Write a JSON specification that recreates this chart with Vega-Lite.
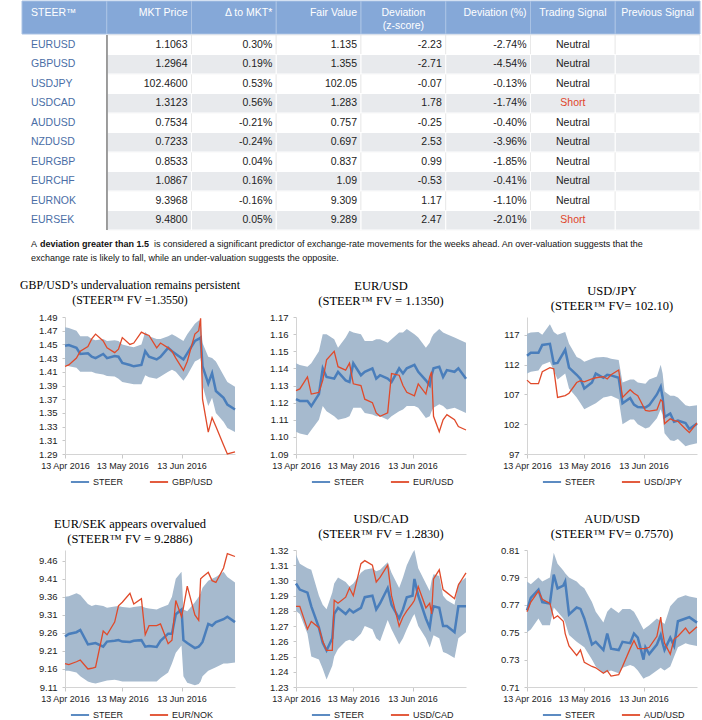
{
"$schema":"https://vega.github.io/schema/vega-lite/v6.json",
"padding":{"left":20,"top":0,"right":0,"bottom":0},
"config":{
 "font":"Liberation Sans Narrow, Liberation Sans, Arial, sans-serif",
 "view":{"stroke":null},
 "axis":{"labelColor":"#222","domainColor":"#d4d4d4","tickColor":"#c8c8c8","grid":false},
 "axisY":{"ticks":true,"tickSize":3,"labelPadding":5,"labelFontSize":9.5,"labelOverlap":false},
 "axisX":{"tickSize":4,"labelPadding":3,"labelFontSize":9},
 "title":{"font":"Liberation Serif","fontSize":12.5,"fontWeight":"normal","lineHeight":15,"offset":5,"color":"#000"},
 "legend":{"orient":"none","legendY":155,"direction":"horizontal","title":null,"symbolType":"stroke","symbolSize":330,"symbolStrokeWidth":1.8,"labelFontSize":9,"labelColor":"#222","columnPadding":22,"labelOffset":3}
},
"datasets":{
 "hdr":[{"col":"pair","label":"STEER™"},{"col":"price","label":"MKT Price"},{"col":"delta","label":"Δ to MKT*"},{"col":"fv","label":"Fair Value"},{"col":"z","label":"Deviation\n(z-score)"},{"col":"pct","label":"Deviation (%)"},{"col":"signal","label":"Trading Signal"},{"col":"prev","label":"Previous Signal"}],
 "tbl":[
  {"pair":"EURUSD","price":"1.1063","delta":"0.30%","fv":"1.135","z":"-2.23","pct":"-2.74%","signal":"Neutral","prev":""},
  {"pair":"GBPUSD","price":"1.2964","delta":"0.19%","fv":"1.355","z":"-2.71","pct":"-4.54%","signal":"Neutral","prev":""},
  {"pair":"USDJPY","price":"102.4600","delta":"0.53%","fv":"102.05","z":"-0.07","pct":"-0.13%","signal":"Neutral","prev":""},
  {"pair":"USDCAD","price":"1.3123","delta":"0.56%","fv":"1.283","z":"1.78","pct":"-1.74%","signal":"Short","prev":""},
  {"pair":"AUDUSD","price":"0.7534","delta":"-0.21%","fv":"0.757","z":"-0.25","pct":"-0.40%","signal":"Neutral","prev":""},
  {"pair":"NZDUSD","price":"0.7233","delta":"-0.24%","fv":"0.697","z":"2.53","pct":"-3.96%","signal":"Neutral","prev":""},
  {"pair":"EURGBP","price":"0.8533","delta":"0.04%","fv":"0.837","z":"0.99","pct":"-1.85%","signal":"Neutral","prev":""},
  {"pair":"EURCHF","price":"1.0867","delta":"0.16%","fv":"1.09","z":"-0.53","pct":"-0.41%","signal":"Neutral","prev":""},
  {"pair":"EURNOK","price":"9.3968","delta":"-0.16%","fv":"9.309","z":"1.17","pct":"-1.10%","signal":"Neutral","prev":""},
  {"pair":"EURSEK","price":"9.4800","delta":"0.05%","fv":"9.289","z":"2.47","pct":"-2.01%","signal":"Short","prev":""}
 ],
 "foot":[
  {"line":1,"seg":"a","text":"A"},
  {"line":1,"seg":"b","text":"deviation greater than 1.5"},
  {"line":1,"seg":"c","text":"is considered a significant predictor of exchange-rate movements for the weeks ahead. An over-valuation suggests that the"},
  {"line":2,"seg":"a","text":"exchange rate is likely to fall, while an under-valuation suggests the opposite."}
 ],
 "c1":[
  {"date":"2016-04-13","steer":1.448,"lo":1.420,"hi":1.475,"spot":1.418},
  {"date":"2016-04-15","steer":1.449,"lo":1.418,"hi":1.474,"spot":1.420},
  {"date":"2016-04-19","steer":1.445,"lo":1.416,"hi":1.470,"spot":1.430},
  {"date":"2016-04-21","steer":1.436,"lo":1.410,"hi":1.462,"spot":1.440},
  {"date":"2016-04-25","steer":1.437,"lo":1.410,"hi":1.462,"spot":1.447},
  {"date":"2016-04-27","steer":1.432,"lo":1.410,"hi":1.458,"spot":1.458},
  {"date":"2016-04-29","steer":1.430,"lo":1.408,"hi":1.456,"spot":1.465},
  {"date":"2016-05-03","steer":1.436,"lo":1.406,"hi":1.458,"spot":1.455},
  {"date":"2016-05-05","steer":1.430,"lo":1.404,"hi":1.455,"spot":1.445},
  {"date":"2016-05-09","steer":1.433,"lo":1.403,"hi":1.456,"spot":1.438},
  {"date":"2016-05-11","steer":1.432,"lo":1.400,"hi":1.455,"spot":1.443},
  {"date":"2016-05-13","steer":1.423,"lo":1.395,"hi":1.450,"spot":1.460},
  {"date":"2016-05-17","steer":1.420,"lo":1.393,"hi":1.447,"spot":1.450},
  {"date":"2016-05-19","steer":1.418,"lo":1.392,"hi":1.446,"spot":1.452},
  {"date":"2016-05-23","steer":1.420,"lo":1.392,"hi":1.450,"spot":1.468},
  {"date":"2016-05-25","steer":1.440,"lo":1.405,"hi":1.468,"spot":1.465},
  {"date":"2016-05-27","steer":1.432,"lo":1.402,"hi":1.462,"spot":1.463},
  {"date":"2016-05-31","steer":1.428,"lo":1.400,"hi":1.458,"spot":1.445},
  {"date":"2016-06-02","steer":1.432,"lo":1.403,"hi":1.458,"spot":1.452},
  {"date":"2016-06-06","steer":1.445,"lo":1.410,"hi":1.462,"spot":1.445},
  {"date":"2016-06-08","steer":1.440,"lo":1.413,"hi":1.465,"spot":1.440},
  {"date":"2016-06-10","steer":1.436,"lo":1.410,"hi":1.462,"spot":1.430},
  {"date":"2016-06-14","steer":1.428,"lo":1.397,"hi":1.455,"spot":1.412},
  {"date":"2016-06-16","steer":1.437,"lo":1.405,"hi":1.465,"spot":1.425},
  {"date":"2016-06-20","steer":1.455,"lo":1.425,"hi":1.480,"spot":1.465},
  {"date":"2016-06-22","steer":1.458,"lo":1.428,"hi":1.485,"spot":1.470},
  {"date":"2016-06-23","steer":1.460,"lo":1.430,"hi":1.485,"spot":1.488},
  {"date":"2016-06-24","steer":1.418,"lo":1.390,"hi":1.452,"spot":1.370},
  {"date":"2016-06-27","steer":1.393,"lo":1.360,"hi":1.432,"spot":1.322},
  {"date":"2016-06-29","steer":1.408,"lo":1.372,"hi":1.430,"spot":1.343},
  {"date":"2016-07-01","steer":1.382,"lo":1.350,"hi":1.425,"spot":1.330},
  {"date":"2016-07-05","steer":1.372,"lo":1.337,"hi":1.405,"spot":1.303},
  {"date":"2016-07-07","steer":1.362,"lo":1.328,"hi":1.395,"spot":1.290},
  {"date":"2016-07-11","steer":1.355,"lo":1.322,"hi":1.388,"spot":1.293}
 ],
 "c2":[
  {"date":"2016-04-13","steer":1.122,"lo":1.103,"hi":1.143,"spot":1.127},
  {"date":"2016-04-15","steer":1.121,"lo":1.102,"hi":1.142,"spot":1.128},
  {"date":"2016-04-19","steer":1.121,"lo":1.101,"hi":1.141,"spot":1.135},
  {"date":"2016-04-21","steer":1.118,"lo":1.104,"hi":1.143,"spot":1.125},
  {"date":"2016-04-25","steer":1.125,"lo":1.110,"hi":1.150,"spot":1.126},
  {"date":"2016-04-27","steer":1.140,"lo":1.118,"hi":1.160,"spot":1.133},
  {"date":"2016-04-29","steer":1.135,"lo":1.115,"hi":1.160,"spot":1.145},
  {"date":"2016-05-03","steer":1.134,"lo":1.112,"hi":1.157,"spot":1.150},
  {"date":"2016-05-05","steer":1.138,"lo":1.110,"hi":1.152,"spot":1.141},
  {"date":"2016-05-09","steer":1.133,"lo":1.111,"hi":1.158,"spot":1.139},
  {"date":"2016-05-11","steer":1.132,"lo":1.112,"hi":1.162,"spot":1.143},
  {"date":"2016-05-13","steer":1.143,"lo":1.117,"hi":1.161,"spot":1.131},
  {"date":"2016-05-17","steer":1.136,"lo":1.117,"hi":1.160,"spot":1.130},
  {"date":"2016-05-19","steer":1.138,"lo":1.114,"hi":1.156,"spot":1.122},
  {"date":"2016-05-23","steer":1.140,"lo":1.113,"hi":1.156,"spot":1.120},
  {"date":"2016-05-25","steer":1.134,"lo":1.112,"hi":1.157,"spot":1.114},
  {"date":"2016-05-27","steer":1.136,"lo":1.112,"hi":1.157,"spot":1.112},
  {"date":"2016-05-31","steer":1.134,"lo":1.110,"hi":1.155,"spot":1.114},
  {"date":"2016-06-02","steer":1.132,"lo":1.112,"hi":1.157,"spot":1.137},
  {"date":"2016-06-06","steer":1.140,"lo":1.115,"hi":1.161,"spot":1.136},
  {"date":"2016-06-08","steer":1.137,"lo":1.116,"hi":1.161,"spot":1.130},
  {"date":"2016-06-10","steer":1.140,"lo":1.118,"hi":1.163,"spot":1.126},
  {"date":"2016-06-14","steer":1.142,"lo":1.118,"hi":1.160,"spot":1.124},
  {"date":"2016-06-16","steer":1.138,"lo":1.117,"hi":1.158,"spot":1.131},
  {"date":"2016-06-20","steer":1.133,"lo":1.111,"hi":1.152,"spot":1.125},
  {"date":"2016-06-22","steer":1.130,"lo":1.112,"hi":1.155,"spot":1.135},
  {"date":"2016-06-23","steer":1.136,"lo":1.115,"hi":1.158,"spot":1.138},
  {"date":"2016-06-24","steer":1.140,"lo":1.117,"hi":1.160,"spot":1.112},
  {"date":"2016-06-27","steer":1.141,"lo":1.119,"hi":1.163,"spot":1.103},
  {"date":"2016-06-29","steer":1.135,"lo":1.118,"hi":1.161,"spot":1.110},
  {"date":"2016-07-01","steer":1.139,"lo":1.116,"hi":1.160,"spot":1.113},
  {"date":"2016-07-05","steer":1.138,"lo":1.117,"hi":1.158,"spot":1.110},
  {"date":"2016-07-07","steer":1.140,"lo":1.116,"hi":1.157,"spot":1.106},
  {"date":"2016-07-11","steer":1.134,"lo":1.114,"hi":1.155,"spot":1.104}
 ],
 "c3":[
  {"date":"2016-04-13","steer":113.5,"lo":110.5,"hi":117.2,"spot":109.4},
  {"date":"2016-04-15","steer":114.0,"lo":110.8,"hi":117.4,"spot":108.8},
  {"date":"2016-04-19","steer":114.0,"lo":111.0,"hi":117.5,"spot":108.8},
  {"date":"2016-04-21","steer":115.3,"lo":112.0,"hi":117.0,"spot":110.8},
  {"date":"2016-04-25","steer":115.5,"lo":112.5,"hi":118.8,"spot":111.5},
  {"date":"2016-04-27","steer":112.2,"lo":111.0,"hi":117.5,"spot":111.3},
  {"date":"2016-04-29","steer":112.3,"lo":109.5,"hi":117.0,"spot":106.5},
  {"date":"2016-05-03","steer":114.5,"lo":110.5,"hi":117.5,"spot":106.8},
  {"date":"2016-05-05","steer":111.5,"lo":108.0,"hi":115.5,"spot":107.2},
  {"date":"2016-05-09","steer":110.3,"lo":106.5,"hi":113.3,"spot":109.0},
  {"date":"2016-05-11","steer":109.6,"lo":105.5,"hi":113.0,"spot":109.3},
  {"date":"2016-05-13","steer":108.0,"lo":104.5,"hi":112.5,"spot":109.1},
  {"date":"2016-05-17","steer":109.0,"lo":105.2,"hi":113.0,"spot":109.6},
  {"date":"2016-05-19","steer":110.5,"lo":105.5,"hi":113.2,"spot":109.8},
  {"date":"2016-05-23","steer":109.8,"lo":106.5,"hi":113.3,"spot":110.0},
  {"date":"2016-05-25","steer":110.3,"lo":106.6,"hi":113.2,"spot":109.6},
  {"date":"2016-05-27","steer":110.2,"lo":106.8,"hi":113.0,"spot":110.3},
  {"date":"2016-05-31","steer":109.8,"lo":106.2,"hi":112.8,"spot":111.1},
  {"date":"2016-06-02","steer":105.5,"lo":102.0,"hi":109.0,"spot":106.5},
  {"date":"2016-06-06","steer":106.4,"lo":102.8,"hi":109.5,"spot":107.8},
  {"date":"2016-06-08","steer":105.3,"lo":102.8,"hi":109.5,"spot":107.2},
  {"date":"2016-06-10","steer":104.9,"lo":102.0,"hi":109.0,"spot":106.8},
  {"date":"2016-06-14","steer":104.8,"lo":101.3,"hi":108.8,"spot":104.3},
  {"date":"2016-06-16","steer":105.2,"lo":101.5,"hi":109.5,"spot":104.2},
  {"date":"2016-06-20","steer":107.0,"lo":103.0,"hi":110.0,"spot":104.4},
  {"date":"2016-06-22","steer":108.3,"lo":104.5,"hi":112.0,"spot":106.1},
  {"date":"2016-06-23","steer":106.5,"lo":103.5,"hi":110.5,"spot":105.8},
  {"date":"2016-06-24","steer":103.2,"lo":100.5,"hi":107.5,"spot":102.1},
  {"date":"2016-06-27","steer":103.8,"lo":99.3,"hi":106.8,"spot":102.9},
  {"date":"2016-06-29","steer":102.4,"lo":99.2,"hi":106.8,"spot":102.6},
  {"date":"2016-07-01","steer":102.6,"lo":99.5,"hi":106.5,"spot":102.5},
  {"date":"2016-07-05","steer":102.2,"lo":98.3,"hi":105.2,"spot":101.2},
  {"date":"2016-07-07","steer":101.2,"lo":98.5,"hi":105.0,"spot":100.6},
  {"date":"2016-07-11","steer":102.1,"lo":98.8,"hi":105.2,"spot":102.2}
 ],
 "c4":[
  {"date":"2016-04-13","steer":9.250,"lo":9.155,"hi":9.360,"spot":9.175},
  {"date":"2016-04-15","steer":9.257,"lo":9.155,"hi":9.362,"spot":9.172},
  {"date":"2016-04-19","steer":9.262,"lo":9.150,"hi":9.370,"spot":9.180},
  {"date":"2016-04-21","steer":9.268,"lo":9.140,"hi":9.365,"spot":9.185},
  {"date":"2016-04-25","steer":9.228,"lo":9.125,"hi":9.340,"spot":9.160},
  {"date":"2016-04-27","steer":9.230,"lo":9.122,"hi":9.335,"spot":9.162},
  {"date":"2016-04-29","steer":9.232,"lo":9.120,"hi":9.338,"spot":9.165},
  {"date":"2016-05-03","steer":9.222,"lo":9.125,"hi":9.335,"spot":9.265},
  {"date":"2016-05-05","steer":9.236,"lo":9.128,"hi":9.330,"spot":9.255},
  {"date":"2016-05-09","steer":9.238,"lo":9.130,"hi":9.333,"spot":9.290},
  {"date":"2016-05-11","steer":9.240,"lo":9.128,"hi":9.335,"spot":9.335},
  {"date":"2016-05-13","steer":9.236,"lo":9.125,"hi":9.332,"spot":9.345},
  {"date":"2016-05-17","steer":9.235,"lo":9.125,"hi":9.330,"spot":9.370},
  {"date":"2016-05-19","steer":9.238,"lo":9.125,"hi":9.332,"spot":9.340},
  {"date":"2016-05-23","steer":9.240,"lo":9.125,"hi":9.335,"spot":9.355},
  {"date":"2016-05-25","steer":9.222,"lo":9.125,"hi":9.330,"spot":9.255},
  {"date":"2016-05-27","steer":9.224,"lo":9.125,"hi":9.328,"spot":9.280},
  {"date":"2016-05-31","steer":9.221,"lo":9.125,"hi":9.325,"spot":9.280},
  {"date":"2016-06-02","steer":9.238,"lo":9.135,"hi":9.330,"spot":9.285},
  {"date":"2016-06-06","steer":9.258,"lo":9.150,"hi":9.338,"spot":9.230},
  {"date":"2016-06-08","steer":9.258,"lo":9.175,"hi":9.360,"spot":9.240},
  {"date":"2016-06-10","steer":9.312,"lo":9.205,"hi":9.410,"spot":9.350},
  {"date":"2016-06-13","steer":9.325,"lo":9.225,"hi":9.430,"spot":9.305},
  {"date":"2016-06-14","steer":9.240,"lo":9.140,"hi":9.325,"spot":9.330},
  {"date":"2016-06-16","steer":9.232,"lo":9.122,"hi":9.320,"spot":9.390},
  {"date":"2016-06-20","steer":9.218,"lo":9.115,"hi":9.345,"spot":9.310},
  {"date":"2016-06-22","steer":9.222,"lo":9.118,"hi":9.360,"spot":9.295},
  {"date":"2016-06-23","steer":9.228,"lo":9.125,"hi":9.370,"spot":9.410},
  {"date":"2016-06-24","steer":9.235,"lo":9.140,"hi":9.385,"spot":9.415},
  {"date":"2016-06-27","steer":9.285,"lo":9.155,"hi":9.405,"spot":9.428},
  {"date":"2016-06-29","steer":9.280,"lo":9.160,"hi":9.410,"spot":9.405},
  {"date":"2016-07-01","steer":9.290,"lo":9.165,"hi":9.415,"spot":9.400},
  {"date":"2016-07-05","steer":9.298,"lo":9.175,"hi":9.430,"spot":9.440},
  {"date":"2016-07-07","steer":9.305,"lo":9.175,"hi":9.415,"spot":9.480},
  {"date":"2016-07-11","steer":9.290,"lo":9.178,"hi":9.400,"spot":9.472}
 ],
 "c5":[
  {"date":"2016-04-13","steer":1.298,"lo":1.280,"hi":1.317,"spot":1.283},
  {"date":"2016-04-15","steer":1.294,"lo":1.278,"hi":1.311,"spot":1.283},
  {"date":"2016-04-19","steer":1.292,"lo":1.265,"hi":1.308,"spot":1.268},
  {"date":"2016-04-21","steer":1.283,"lo":1.250,"hi":1.307,"spot":1.273},
  {"date":"2016-04-25","steer":1.269,"lo":1.248,"hi":1.290,"spot":1.269},
  {"date":"2016-04-27","steer":1.259,"lo":1.242,"hi":1.284,"spot":1.260},
  {"date":"2016-04-29","steer":1.254,"lo":1.235,"hi":1.281,"spot":1.254},
  {"date":"2016-05-02","steer":1.262,"lo":1.244,"hi":1.292,"spot":1.254},
  {"date":"2016-05-03","steer":1.278,"lo":1.250,"hi":1.298,"spot":1.287},
  {"date":"2016-05-05","steer":1.282,"lo":1.255,"hi":1.302,"spot":1.285},
  {"date":"2016-05-09","steer":1.278,"lo":1.260,"hi":1.299,"spot":1.289},
  {"date":"2016-05-11","steer":1.281,"lo":1.261,"hi":1.296,"spot":1.295},
  {"date":"2016-05-13","steer":1.279,"lo":1.260,"hi":1.298,"spot":1.290},
  {"date":"2016-05-17","steer":1.282,"lo":1.265,"hi":1.305,"spot":1.311},
  {"date":"2016-05-19","steer":1.289,"lo":1.270,"hi":1.307,"spot":1.313},
  {"date":"2016-05-23","steer":1.290,"lo":1.268,"hi":1.308,"spot":1.310},
  {"date":"2016-05-25","steer":1.281,"lo":1.262,"hi":1.306,"spot":1.299},
  {"date":"2016-05-27","steer":1.285,"lo":1.260,"hi":1.307,"spot":1.302},
  {"date":"2016-05-31","steer":1.295,"lo":1.274,"hi":1.312,"spot":1.310},
  {"date":"2016-06-02","steer":1.284,"lo":1.268,"hi":1.305,"spot":1.290},
  {"date":"2016-06-06","steer":1.275,"lo":1.258,"hi":1.295,"spot":1.270},
  {"date":"2016-06-08","steer":1.281,"lo":1.262,"hi":1.302,"spot":1.276},
  {"date":"2016-06-10","steer":1.289,"lo":1.268,"hi":1.310,"spot":1.280},
  {"date":"2016-06-13","steer":1.290,"lo":1.276,"hi":1.318,"spot":1.285},
  {"date":"2016-06-14","steer":1.301,"lo":1.278,"hi":1.320,"spot":1.287},
  {"date":"2016-06-16","steer":1.290,"lo":1.270,"hi":1.308,"spot":1.296},
  {"date":"2016-06-20","steer":1.275,"lo":1.262,"hi":1.298,"spot":1.282},
  {"date":"2016-06-22","steer":1.269,"lo":1.256,"hi":1.293,"spot":1.285},
  {"date":"2016-06-23","steer":1.278,"lo":1.260,"hi":1.300,"spot":1.278},
  {"date":"2016-06-24","steer":1.283,"lo":1.264,"hi":1.304,"spot":1.301},
  {"date":"2016-06-27","steer":1.282,"lo":1.262,"hi":1.303,"spot":1.307},
  {"date":"2016-06-29","steer":1.270,"lo":1.253,"hi":1.290,"spot":1.294},
  {"date":"2016-07-01","steer":1.270,"lo":1.252,"hi":1.287,"spot":1.292},
  {"date":"2016-07-05","steer":1.266,"lo":1.249,"hi":1.284,"spot":1.288},
  {"date":"2016-07-07","steer":1.283,"lo":1.262,"hi":1.298,"spot":1.297},
  {"date":"2016-07-11","steer":1.283,"lo":1.266,"hi":1.302,"spot":1.305}
 ],
 "c6":[
  {"date":"2016-04-13","steer":0.766,"lo":0.750,"hi":0.787,"spot":0.765},
  {"date":"2016-04-15","steer":0.775,"lo":0.752,"hi":0.785,"spot":0.772},
  {"date":"2016-04-19","steer":0.781,"lo":0.760,"hi":0.790,"spot":0.780},
  {"date":"2016-04-21","steer":0.772,"lo":0.755,"hi":0.787,"spot":0.774},
  {"date":"2016-04-25","steer":0.771,"lo":0.755,"hi":0.790,"spot":0.771},
  {"date":"2016-04-27","steer":0.792,"lo":0.768,"hi":0.808,"spot":0.760},
  {"date":"2016-04-29","steer":0.782,"lo":0.765,"hi":0.800,"spot":0.762},
  {"date":"2016-05-02","steer":0.784,"lo":0.760,"hi":0.795,"spot":0.758},
  {"date":"2016-05-03","steer":0.787,"lo":0.757,"hi":0.793,"spot":0.749},
  {"date":"2016-05-05","steer":0.763,"lo":0.748,"hi":0.790,"spot":0.740},
  {"date":"2016-05-09","steer":0.768,"lo":0.743,"hi":0.787,"spot":0.733},
  {"date":"2016-05-11","steer":0.767,"lo":0.741,"hi":0.784,"spot":0.737},
  {"date":"2016-05-13","steer":0.760,"lo":0.739,"hi":0.782,"spot":0.728},
  {"date":"2016-05-17","steer":0.741,"lo":0.730,"hi":0.772,"spot":0.725},
  {"date":"2016-05-19","steer":0.743,"lo":0.725,"hi":0.765,"spot":0.724},
  {"date":"2016-05-23","steer":0.737,"lo":0.720,"hi":0.757,"spot":0.720},
  {"date":"2016-05-25","steer":0.749,"lo":0.721,"hi":0.765,"spot":0.722},
  {"date":"2016-05-27","steer":0.738,"lo":0.722,"hi":0.768,"spot":0.718},
  {"date":"2016-05-31","steer":0.737,"lo":0.720,"hi":0.764,"spot":0.719},
  {"date":"2016-06-02","steer":0.743,"lo":0.724,"hi":0.767,"spot":0.725},
  {"date":"2016-06-06","steer":0.742,"lo":0.726,"hi":0.767,"spot":0.738},
  {"date":"2016-06-08","steer":0.749,"lo":0.725,"hi":0.765,"spot":0.744},
  {"date":"2016-06-10","steer":0.746,"lo":0.722,"hi":0.760,"spot":0.738},
  {"date":"2016-06-13","steer":0.730,"lo":0.716,"hi":0.752,"spot":0.738},
  {"date":"2016-06-14","steer":0.739,"lo":0.717,"hi":0.753,"spot":0.738},
  {"date":"2016-06-16","steer":0.734,"lo":0.718,"hi":0.755,"spot":0.739},
  {"date":"2016-06-20","steer":0.741,"lo":0.722,"hi":0.760,"spot":0.747},
  {"date":"2016-06-22","steer":0.748,"lo":0.724,"hi":0.758,"spot":0.761},
  {"date":"2016-06-23","steer":0.742,"lo":0.723,"hi":0.757,"spot":0.750},
  {"date":"2016-06-24","steer":0.737,"lo":0.722,"hi":0.756,"spot":0.742},
  {"date":"2016-06-27","steer":0.746,"lo":0.725,"hi":0.769,"spot":0.734},
  {"date":"2016-06-29","steer":0.740,"lo":0.732,"hi":0.772,"spot":0.745},
  {"date":"2016-07-01","steer":0.758,"lo":0.739,"hi":0.775,"spot":0.747},
  {"date":"2016-07-05","steer":0.760,"lo":0.742,"hi":0.777,"spot":0.753},
  {"date":"2016-07-07","steer":0.761,"lo":0.741,"hi":0.776,"spot":0.749},
  {"date":"2016-07-11","steer":0.757,"lo":0.740,"hi":0.775,"spot":0.754}
 ]
},
"bounds":"flush",
"columns":4,
"spacing":{"row":0,"column":61},
"resolve":{"scale":{"color":"independent"}},
"concat":[
 {"width":170,"height":33,"data":{"name":"hdr"},
  "encoding":{"x":{"field":"col","type":"nominal","axis":null,"scale":{"domain":["pair","price","delta","fv","z","pct","signal","prev"],"range":[-43,635],"paddingInner":0,"paddingOuter":0}}},
  "layer":[
   {"mark":{"type":"rect","fill":"#85a8d8","stroke":"#a9c2e4","strokeWidth":1}},
   {"transform":[{"filter":"datum.col == 'pair'"}],"mark":{"type":"text","align":"left","baseline":"top","dx":9,"dy":-10,"fontSize":10.5,"color":"#ffffff","lineBreak":"\n"},"encoding":{"x":{"field":"col","type":"nominal","bandPosition":0},"text":{"field":"label"}}},
   {"transform":[{"filter":"indexof(['price','delta','fv','pct'], datum.col) >= 0"}],"mark":{"type":"text","align":"right","baseline":"top","dx":-4,"dy":-10,"fontSize":10.5,"color":"#ffffff","lineBreak":"\n"},"encoding":{"x":{"field":"col","type":"nominal","bandPosition":1},"text":{"field":"label"}}},
   {"transform":[{"filter":"indexof(['z','signal','prev'], datum.col) >= 0"}],"mark":{"type":"text","align":"center","baseline":"top","dy":-10,"fontSize":10.5,"color":"#ffffff","lineBreak":"\n","lineHeight":13},"encoding":{"x":{"field":"col","type":"nominal","bandPosition":0.5},"text":{"field":"label"}}}
  ]},
 {"width":170,"height":1,"data":{"values":[]},"mark":"point"},
 {"width":170,"height":1,"data":{"values":[]},"mark":"point"},
 {"width":1,"height":34,"data":{"values":[]},"mark":"point"},
 {"width":170,"height":195,"data":{"name":"tbl"},
  "encoding":{
   "x":{"field":"col","type":"nominal","axis":null,"scale":{"domain":["pair","price","delta","fv","z","pct","signal","prev"],"range":[-43,635],"paddingInner":0,"paddingOuter":0}},
   "y":{"field":"pair","type":"nominal","axis":null,"scale":{"domain":["EURUSD","GBPUSD","USDJPY","USDCAD","AUDUSD","NZDUSD","EURGBP","EURCHF","EURNOK","EURSEK"],"paddingInner":0,"paddingOuter":0}}
  },
  "layer":[
   {"transform":[{"fold":["price","delta","fv","z","pct","signal","prev"],"as":["col","val"]}],"mark":{"type":"rect","fill":"#ffffff","stroke":"#e0e0e0","strokeWidth":0.6}},
   {"transform":[{"window":[{"op":"row_number","as":"idx"}]},{"filter":"datum.idx % 2 == 0"},{"fold":["price","delta","fv","z","pct","signal","prev"],"as":["col","val"]}],"mark":{"type":"rect","fill":"#e8eaed","stroke":"#ffffff","strokeWidth":1}},
   {"transform":[{"fold":["price"],"as":["col","val"]}],"mark":{"type":"rule","color":"#9a9a9a","strokeWidth":1},"encoding":{"x":{"field":"col","type":"nominal","bandPosition":0},"y":null}},
   {"transform":[{"fold":["pair"],"as":["col","val"]}],"mark":{"type":"text","align":"left","dx":9,"fontSize":10.5,"color":"#4a6ea6"},"encoding":{"x":{"field":"col","type":"nominal","bandPosition":0},"text":{"field":"val"}}},
   {"transform":[{"fold":["price","delta","fv","z","pct"],"as":["col","val"]}],"mark":{"type":"text","align":"right","dx":-4,"fontSize":10.5,"color":"#222222"},"encoding":{"x":{"field":"col","type":"nominal","bandPosition":1},"text":{"field":"val"}}},
   {"transform":[{"fold":["signal"],"as":["col","val"]}],"mark":{"type":"text","align":"center","fontSize":10.5},"encoding":{"x":{"field":"col","type":"nominal","bandPosition":0.5},"text":{"field":"val"},"color":{"condition":{"test":"datum.val == 'Short'","value":"#e0452a"},"value":"#222222"}}}
  ]},
 {"width":170,"height":1,"data":{"values":[]},"mark":"point"},
 {"width":170,"height":1,"data":{"values":[]},"mark":"point"},
 {"width":1,"height":196,"data":{"values":[]},"mark":"point"},
 {"width":170,"height":40,"data":{"name":"foot"},
  "encoding":{"y":{"field":"line","type":"ordinal","axis":null,"scale":{"type":"point","padding":1.04}},"x":{"value":0},"text":{"field":"text"}},
  "layer":[
   {"transform":[{"filter":"datum.line == 1 && datum.seg == 'a'"}],"mark":{"type":"text","align":"left","dx":-34,"fontSize":9,"color":"#111"}},
   {"transform":[{"filter":"datum.line == 1 && datum.seg == 'b'"}],"mark":{"type":"text","align":"left","dx":-25,"fontSize":9,"fontWeight":"bold","color":"#111"}},
   {"transform":[{"filter":"datum.line == 1 && datum.seg == 'c'"}],"mark":{"type":"text","align":"left","dx":89,"fontSize":9,"color":"#111"}},
   {"transform":[{"filter":"datum.line == 2"}],"mark":{"type":"text","align":"left","dx":-34,"fontSize":9,"color":"#111"}}
  ]},
 {"width":170,"height":1,"data":{"values":[]},"mark":"point"},
 {"width":170,"height":1,"data":{"values":[]},"mark":"point"},
 {"width":1,"height":86,"data":{"values":[]},"mark":"point"},
 {"width":170,"height":137,"data":{"name":"c1"},"title":{"text":["GBP/USD’s undervaluation remains persistent","(STEER™ FV =1.3550)"],"dx":-20,"fontSize":11.8},
  "encoding":{"x":{"field":"date","type":"temporal","scale":{"type":"utc","domain":[{"year":2016,"month":4,"date":13,"utc":true},{"year":2016,"month":7,"date":11,"utc":true}]},"axis":{"title":null,"values":[{"year":2016,"month":4,"date":13,"utc":true},{"year":2016,"month":5,"date":13,"utc":true},{"year":2016,"month":6,"date":13,"utc":true}],"labelExpr":"utcFormat(datum.value, '%d %b %Y')","labelOverlap":false,"labelFlush":false}}},
  "layer":[
   {"mark":{"type":"area","color":"#a6bace"},"encoding":{"y":{"field":"lo","type":"quantitative","scale":{"domain":[1.29,1.49],"zero":false,"nice":false},"axis":{"title":null,"values":[1.29,1.31,1.33,1.35,1.37,1.39,1.41,1.43,1.45,1.47,1.49],"format":".2f","labelOverlap":false,"labelBound":false}},"y2":{"field":"hi"}}},
   {"mark":{"type":"line","strokeWidth":2.5},"encoding":{"y":{"field":"steer","type":"quantitative","axis":{"title":null,"values":[1.29,1.31,1.33,1.35,1.37,1.39,1.41,1.43,1.45,1.47,1.49],"format":".2f","labelOverlap":false}},"color":{"datum":"STEER","type":"nominal","scale":{"domain":["STEER","GBP/USD"],"range":["#4a7ebb","#e04a2a"]},"legend":{"legendX":5}}}},
   {"mark":{"type":"line","strokeWidth":1.3},"encoding":{"y":{"field":"spot","type":"quantitative","axis":{"title":null,"values":[1.29,1.31,1.33,1.35,1.37,1.39,1.41,1.43,1.45,1.47,1.49],"format":".2f","labelOverlap":false}},"color":{"datum":"GBP/USD","type":"nominal"}}}
  ]},
 {"width":170,"height":137,"data":{"name":"c2"},"title":{"text":["EUR/USD","(STEER™ FV = 1.1350)"]},
  "encoding":{"x":{"field":"date","type":"temporal","scale":{"type":"utc","domain":[{"year":2016,"month":4,"date":13,"utc":true},{"year":2016,"month":7,"date":11,"utc":true}]},"axis":{"title":null,"values":[{"year":2016,"month":4,"date":13,"utc":true},{"year":2016,"month":5,"date":13,"utc":true},{"year":2016,"month":6,"date":13,"utc":true}],"labelExpr":"utcFormat(datum.value, '%d %b %Y')","labelOverlap":false,"labelFlush":false}}},
  "layer":[
   {"mark":{"type":"area","color":"#a6bace"},"encoding":{"y":{"field":"lo","type":"quantitative","scale":{"domain":[1.09,1.17],"zero":false,"nice":false},"axis":{"title":null,"values":[1.09,1.10,1.11,1.12,1.13,1.14,1.15,1.16,1.17],"format":".2f","labelOverlap":false}},"y2":{"field":"hi"}}},
   {"mark":{"type":"line","strokeWidth":2.5},"encoding":{"y":{"field":"steer","type":"quantitative","axis":{"title":null,"values":[1.09,1.10,1.11,1.12,1.13,1.14,1.15,1.16,1.17],"format":".2f","labelOverlap":false}},"color":{"datum":"STEER","type":"nominal","scale":{"domain":["STEER","EUR/USD"],"range":["#4a7ebb","#e04a2a"]},"legend":{"legendX":15}}}},
   {"mark":{"type":"line","strokeWidth":1.3},"encoding":{"y":{"field":"spot","type":"quantitative","axis":{"title":null,"values":[1.09,1.10,1.11,1.12,1.13,1.14,1.15,1.16,1.17],"format":".2f","labelOverlap":false}},"color":{"datum":"EUR/USD","type":"nominal"}}}
  ]},
 {"width":170,"height":137,"data":{"name":"c3"},"title":{"text":["USD/JPY","(STEER™ FV= 102.10)"]},
  "encoding":{"x":{"field":"date","type":"temporal","scale":{"type":"utc","domain":[{"year":2016,"month":4,"date":13,"utc":true},{"year":2016,"month":7,"date":11,"utc":true}]},"axis":{"title":null,"values":[{"year":2016,"month":4,"date":13,"utc":true},{"year":2016,"month":5,"date":13,"utc":true},{"year":2016,"month":6,"date":13,"utc":true}],"labelExpr":"utcFormat(datum.value, '%d %b %Y')","labelOverlap":false,"labelFlush":false}}},
  "layer":[
   {"mark":{"type":"area","color":"#a6bace"},"encoding":{"y":{"field":"lo","type":"quantitative","scale":{"domain":[97,120],"zero":false,"nice":false},"axis":{"title":null,"values":[97,102,107,112,117],"format":"d","labelOverlap":false}},"y2":{"field":"hi"}}},
   {"mark":{"type":"line","strokeWidth":2.5},"encoding":{"y":{"field":"steer","type":"quantitative","axis":{"title":null,"values":[97,102,107,112,117],"format":"d","labelOverlap":false}},"color":{"datum":"STEER","type":"nominal","scale":{"domain":["STEER","USD/JPY"],"range":["#4a7ebb","#e04a2a"]},"legend":{"legendX":15}}}},
   {"mark":{"type":"line","strokeWidth":1.3},"encoding":{"y":{"field":"spot","type":"quantitative","axis":{"title":null,"values":[97,102,107,112,117],"format":"d","labelOverlap":false}},"color":{"datum":"USD/JPY","type":"nominal"}}}
  ]},
 {"width":1,"height":233,"data":{"values":[]},"mark":"point"},
 {"width":170,"height":137,"data":{"name":"c4"},"title":{"text":["EUR/SEK appears overvalued","(STEER™ FV = 9.2886)"],"dx":-20},
  "encoding":{"x":{"field":"date","type":"temporal","scale":{"type":"utc","domain":[{"year":2016,"month":4,"date":13,"utc":true},{"year":2016,"month":7,"date":11,"utc":true}]},"axis":{"title":null,"values":[{"year":2016,"month":4,"date":13,"utc":true},{"year":2016,"month":5,"date":13,"utc":true},{"year":2016,"month":6,"date":13,"utc":true}],"labelExpr":"utcFormat(datum.value, '%d %b %Y')","labelOverlap":false,"labelFlush":false}}},
  "layer":[
   {"mark":{"type":"area","color":"#a6bace"},"encoding":{"y":{"field":"lo","type":"quantitative","scale":{"domain":[9.11,9.49],"zero":false,"nice":false},"axis":{"title":null,"values":[9.11,9.16,9.21,9.26,9.31,9.36,9.41,9.46],"format":".2f","labelOverlap":false}},"y2":{"field":"hi"}}},
   {"mark":{"type":"line","strokeWidth":2.5},"encoding":{"y":{"field":"steer","type":"quantitative","axis":{"title":null,"values":[9.11,9.16,9.21,9.26,9.31,9.36,9.41,9.46],"format":".2f","labelOverlap":false}},"color":{"datum":"STEER","type":"nominal","scale":{"domain":["STEER","EUR/NOK"],"range":["#4a7ebb","#e04a2a"]},"legend":{"legendX":5}}}},
   {"mark":{"type":"line","strokeWidth":1.3},"encoding":{"y":{"field":"spot","type":"quantitative","axis":{"title":null,"values":[9.11,9.16,9.21,9.26,9.31,9.36,9.41,9.46],"format":".2f","labelOverlap":false}},"color":{"datum":"EUR/NOK","type":"nominal"}}}
  ]},
 {"width":170,"height":137,"data":{"name":"c5"},"title":{"text":["USD/CAD","(STEER™ FV = 1.2830)"]},
  "encoding":{"x":{"field":"date","type":"temporal","scale":{"type":"utc","domain":[{"year":2016,"month":4,"date":13,"utc":true},{"year":2016,"month":7,"date":11,"utc":true}]},"axis":{"title":null,"values":[{"year":2016,"month":4,"date":13,"utc":true},{"year":2016,"month":5,"date":13,"utc":true},{"year":2016,"month":6,"date":13,"utc":true}],"labelExpr":"utcFormat(datum.value, '%d %b %Y')","labelOverlap":false,"labelFlush":false}}},
  "layer":[
   {"mark":{"type":"area","color":"#a6bace"},"encoding":{"y":{"field":"lo","type":"quantitative","scale":{"domain":[1.23,1.32],"zero":false,"nice":false},"axis":{"title":null,"values":[1.23,1.24,1.25,1.26,1.27,1.28,1.29,1.30,1.31,1.32],"format":".2f","labelOverlap":false}},"y2":{"field":"hi"}}},
   {"mark":{"type":"line","strokeWidth":2.5},"encoding":{"y":{"field":"steer","type":"quantitative","axis":{"title":null,"values":[1.23,1.24,1.25,1.26,1.27,1.28,1.29,1.30,1.31,1.32],"format":".2f","labelOverlap":false}},"color":{"datum":"STEER","type":"nominal","scale":{"domain":["STEER","USD/CAD"],"range":["#4a7ebb","#e04a2a"]},"legend":{"legendX":15}}}},
   {"mark":{"type":"line","strokeWidth":1.3},"encoding":{"y":{"field":"spot","type":"quantitative","axis":{"title":null,"values":[1.23,1.24,1.25,1.26,1.27,1.28,1.29,1.30,1.31,1.32],"format":".2f","labelOverlap":false}},"color":{"datum":"USD/CAD","type":"nominal"}}}
  ]},
 {"width":170,"height":137,"data":{"name":"c6"},"title":{"text":["AUD/USD","(STEER™ FV= 0.7570)"]},
  "encoding":{"x":{"field":"date","type":"temporal","scale":{"type":"utc","domain":[{"year":2016,"month":4,"date":13,"utc":true},{"year":2016,"month":7,"date":11,"utc":true}]},"axis":{"title":null,"values":[{"year":2016,"month":4,"date":13,"utc":true},{"year":2016,"month":5,"date":13,"utc":true},{"year":2016,"month":6,"date":13,"utc":true}],"labelExpr":"utcFormat(datum.value, '%d %b %Y')","labelOverlap":false,"labelFlush":false}}},
  "layer":[
   {"mark":{"type":"area","color":"#a6bace"},"encoding":{"y":{"field":"lo","type":"quantitative","scale":{"domain":[0.71,0.81],"zero":false,"nice":false},"axis":{"title":null,"values":[0.71,0.73,0.75,0.77,0.79,0.81],"format":".2f","labelOverlap":false}},"y2":{"field":"hi"}}},
   {"mark":{"type":"line","strokeWidth":2.5},"encoding":{"y":{"field":"steer","type":"quantitative","axis":{"title":null,"values":[0.71,0.73,0.75,0.77,0.79,0.81],"format":".2f","labelOverlap":false}},"color":{"datum":"STEER","type":"nominal","scale":{"domain":["STEER","AUD/USD"],"range":["#4a7ebb","#e04a2a"]},"legend":{"legendX":15}}}},
   {"mark":{"type":"line","strokeWidth":1.3},"encoding":{"y":{"field":"spot","type":"quantitative","axis":{"title":null,"values":[0.71,0.73,0.75,0.77,0.79,0.81],"format":".2f","labelOverlap":false}},"color":{"datum":"AUD/USD","type":"nominal"}}}
  ]},
 {"width":1,"height":137,"data":{"values":[]},"mark":"point"}
]
}
